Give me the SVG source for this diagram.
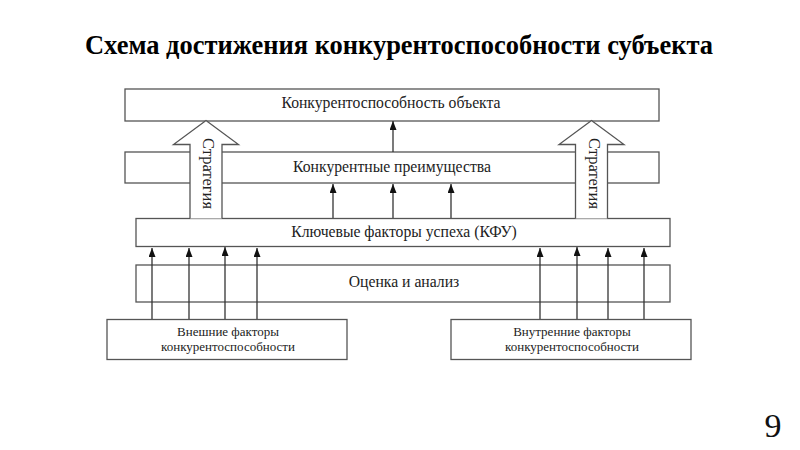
<svg xmlns="http://www.w3.org/2000/svg" width="800" height="450" viewBox="0 0 800 450">
<defs>
<marker id="ah" viewBox="0 0 9 7" refX="9" refY="3.5" markerWidth="9" markerHeight="7" markerUnits="userSpaceOnUse" orient="auto">
<path d="M0,0 L9,3.5 L0,7 Z" fill="#111"/>
</marker>
<style>
.box{fill:#fff;stroke:#555;stroke-width:1.3}
.big{fill:#fff;stroke:#555;stroke-width:1.3}
.ln{stroke:#333;stroke-width:1.3;fill:none}
.t{font-family:"Liberation Serif","Times New Roman",serif;fill:#222;text-anchor:middle}
.m{font-size:15.7px}
.v{font-size:16.5px}
.s{font-size:13px}
.title{font-family:"Liberation Serif","Times New Roman",serif;font-weight:bold;font-size:27.5px;fill:#000;text-anchor:middle}
</style>
</defs>
<rect width="800" height="450" fill="#fff"/>
<text class="title" x="399" y="53.5" textLength="628" lengthAdjust="spacingAndGlyphs">Схема достижения конкурентоспособности субъекта</text>

<g id="n-top"><rect class="box" x="125" y="89" width="534" height="32"/>
<text class="t m" x="391" y="108">Конкурентоспособность объекта</text></g>

<g id="n-adv"><rect class="box" x="125" y="152" width="534" height="31"/>
<text class="t m" x="392" y="172">Конкурентные преимущества</text></g>

<g id="n-eval"><rect class="box" x="136" y="265" width="534" height="37"/>
<text class="t m" x="404" y="287">Оценка и анализ</text></g>

<g id="connectors">
<line class="ln" x1="333" y1="218" x2="333" y2="184" marker-end="url(#ah)"/>
<line class="ln" x1="393" y1="218" x2="393" y2="184" marker-end="url(#ah)"/>
<line class="ln" x1="451" y1="218" x2="451" y2="184" marker-end="url(#ah)"/>
<line class="ln" x1="393" y1="152" x2="393" y2="121" marker-end="url(#ah)"/>
<line class="ln" x1="152" y1="319" x2="152" y2="248" marker-end="url(#ah)"/>
<line class="ln" x1="189" y1="319" x2="189" y2="248" marker-end="url(#ah)"/>
<line class="ln" x1="225" y1="319" x2="225" y2="247" marker-end="url(#ah)"/>
<line class="ln" x1="257" y1="319" x2="257" y2="248" marker-end="url(#ah)"/>
<line class="ln" x1="540" y1="319" x2="540" y2="248" marker-end="url(#ah)"/>
<line class="ln" x1="577" y1="319" x2="577" y2="247" marker-end="url(#ah)"/>
<line class="ln" x1="608" y1="319" x2="608" y2="248" marker-end="url(#ah)"/>
<line class="ln" x1="644" y1="319" x2="644" y2="248" marker-end="url(#ah)"/>
</g>

<g id="n-kfu"><rect class="box" x="136" y="218.5" width="534" height="28"/>
<text class="t m" x="404" y="237">Ключевые факторы успеха (КФУ)</text></g>

<g id="n-strat-left">
<path class="big" d="M190,218.5 L190,144.5 L173.5,144.5 L206,120.5 L238.5,144.5 L222,144.5 L222,218.5"/>
<text class="t v" transform="translate(202.5,173.5) rotate(90)" x="0" y="0">Стратегия</text>
</g>
<g id="n-strat-right">
<path class="big" d="M575.5,218.5 L575.5,144.5 L559,144.5 L591.5,120.5 L624,144.5 L607.5,144.5 L607.5,218.5"/>
<text class="t v" transform="translate(588.5,173.5) rotate(90)" x="0" y="0">Стратегия</text>
</g>

<g id="n-ext"><rect class="box" x="107" y="319.5" width="240" height="40"/>
<text class="t s" x="228" y="336">Внешние факторы</text>
<text class="t s" x="228" y="351">конкурентоспособности</text></g>

<g id="n-int"><rect class="box" x="451" y="319.5" width="240" height="40"/>
<text class="t s" x="572" y="336">Внутренние факторы</text>
<text class="t s" x="572" y="351">конкурентоспособности</text></g>

<text x="773" y="437" style="font-family:'Liberation Serif','Times New Roman',serif;font-size:34px;fill:#111;text-anchor:middle">9</text>
</svg>
